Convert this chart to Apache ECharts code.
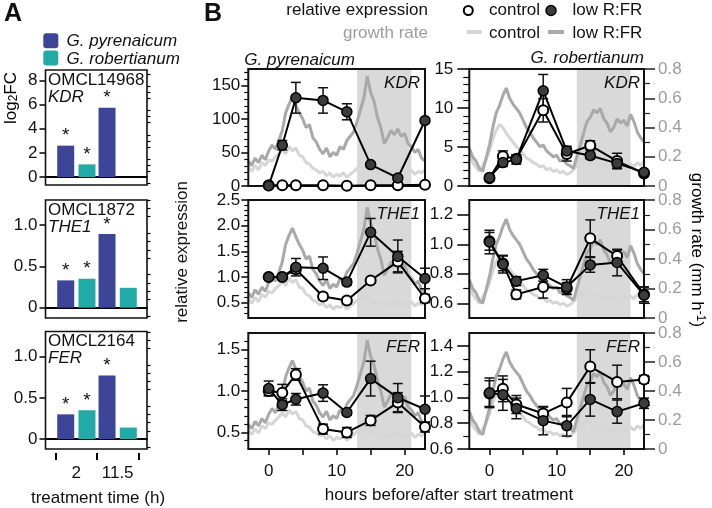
<!DOCTYPE html>
<html><head><meta charset="utf-8">
<script src="https://cdn.jsdelivr.net/npm/echarts@6/dist/echarts.min.js"></script>
<style>html,body{margin:0;padding:0;background:#fff}#c{width:712px;height:508px}</style>
</head><body><div id="c"></div>
<script>
// ---------------- Panel A data (log2 fold change) ----------------
const barCategories = ['2', '11.5'];
const pyrKDR_log2FC = [2.6, 5.75];
const robKDR_log2FC = [1.05, 0];
const pyrTHE1_log2FC = [0.33, 0.89];
const robTHE1_log2FC = [0.35, 0.24];
const pyrFER_log2FC = [0.30, 0.77];
const robFER_log2FC = [0.35, 0.14];
const pyrSignificant = [1, 1];
const robSignificant = [1, 0];

// ---------------- Panel B data (relative expression) ----------------
const sampleHours = [0, 2, 4, 8, 11.5, 15, 19, 23];
const pyrKDR_control = [1, 1, 1, 1, 0.5, 1, 1, 2];
const pyrKDR_controlErr = [0, 0, 0, 0, 0, 0, 0, 0];
const pyrKDR_low = [0.5, 61, 132, 128, 111, 32, 12, 98];
const pyrKDR_lowErr = [0, 7, 23, 19, 12, 3, 3, 3];
const robKDR_control = [1.0, 3.8, 3.5, 9.7, 4.1, 5.2, 3.2, 1.6];
const robKDR_controlErr = [0.2, 0.7, 0.5, 1.5, 0.9, 0.6, 1.0, 0.2];
const robKDR_low = [1.1, 3.0, 3.4, 12.2, 4.5, 3.9, 2.9, 1.75];
const robKDR_lowErr = [0.2, 0.5, 0.6, 2.1, 0.6, 0.4, 0.6, 0.2];
const pyrTHE1_control = [1.0, 1.0, 1.15, 0.62, 0.54, 0.93, 1.3, 0.58];
const pyrTHE1_controlErr = [0, 0, 0.08, 0.06, 0.06, 0.04, 0.2, 0.08];
const pyrTHE1_low = [1.0, 1.0, 1.19, 1.17, 0.9, 1.87, 1.4, 0.97];
const pyrTHE1_lowErr = [0, 0.03, 0.17, 0.22, 0.06, 0.27, 0.32, 0.2];
const robTHE1_control = [1.02, 0.87, 0.66, 0.71, 0.70, 1.04, 0.92, 0.66];
const robTHE1_controlErr = [0.06, 0.05, 0.03, 0.075, 0.04, 0.125, 0.04, 0.05];
const robTHE1_low = [1.015, 0.865, 0.75, 0.79, 0.71, 0.86, 0.876, 0.655];
const robTHE1_lowErr = [0.08, 0.06, 0.03, 0.04, 0.05, 0.05, 0.09, 0.055];
const pyrFER_control = [1.0, 0.98, 1.2, 0.54, 0.5, 0.645, 0.86, 0.565];
const pyrFER_controlErr = [0.05, 0.1, 0.07, 0.06, 0.06, 0.06, 0.12, 0.06];
const pyrFER_low = [1.03, 0.835, 0.9, 0.975, 0.74, 1.15, 0.92, 0.78];
const pyrFER_lowErr = [0.09, 0.07, 0.07, 0.1, 0.03, 0.21, 0.17, 0.16];
const robFER_control = [1.03, 1.067, 0.945, 0.875, 0.96, 1.24, 1.12, 1.14];
const robFER_controlErr = [0.1, 0.1, 0.07, 0.05, 0.11, 0.13, 0.13, 0.03];
const robFER_low = [1.036, 1.02, 0.915, 0.82, 0.78, 0.985, 0.89, 0.955];
const robFER_lowErr = [0.115, 0.12, 0.08, 0.11, 0.08, 0.13, 0.09, 0.04];

// ---------------- Growth rate (mm h-1), sampled every 0.5 h from -3 h ----------------
const growthStartHour = -3;
const growthStepHours = 0.5;
const pyrGrowthControl = [0.13,0.10,0.14,0.11,0.16,0.14,0.18,0.17,0.20,0.22,0.25,0.22,0.27,0.24,0.26,0.21,0.20,0.16,0.15,0.12,0.11,0.09,0.10,0.07,0.09,0.06,0.08,0.07,0.09,0.06,0.08,0.10,0.12,0.15,0.13,0.16,0.12,0.10,0.09,0.11,0.08,0.10,0.09,0.11,0.10,0.08,0.10,0.09,0.11,0.08,0.10,0.09,0.11];
const pyrGrowthLow = [0.17,0.14,0.19,0.16,0.21,0.18,0.24,0.28,0.25,0.31,0.38,0.50,0.56,0.61,0.55,0.50,0.46,0.40,0.42,0.33,0.30,0.25,0.22,0.26,0.20,0.23,0.21,0.27,0.25,0.31,0.34,0.37,0.44,0.52,0.60,0.75,0.64,0.58,0.47,0.40,0.29,0.33,0.38,0.35,0.39,0.34,0.36,0.29,0.27,0.23,0.25,0.19,0.17];
const robGrowthControl = [0.22,0.16,0.13,0.10,0.14,0.18,0.24,0.32,0.38,0.42,0.40,0.36,0.33,0.30,0.27,0.25,0.22,0.19,0.18,0.16,0.15,0.13,0.14,0.11,0.12,0.10,0.11,0.09,0.10,0.08,0.09,0.11,0.14,0.18,0.16,0.20,0.17,0.15,0.16,0.13,0.15,0.12,0.14,0.13,0.15,0.12,0.14,0.13,0.15,0.13,0.16,0.14,0.17];
const robGrowthLow = [0.26,0.20,0.17,0.12,0.10,0.19,0.28,0.40,0.50,0.55,0.62,0.67,0.60,0.56,0.53,0.50,0.45,0.40,0.37,0.33,0.30,0.27,0.28,0.24,0.22,0.20,0.21,0.17,0.18,0.15,0.14,0.12,0.20,0.28,0.36,0.44,0.47,0.52,0.50,0.53,0.46,0.43,0.37,0.40,0.46,0.43,0.45,0.41,0.49,0.44,0.37,0.33,0.30];

const growthTickValues = [0, 0.2, 0.4, 0.6, 0.8];
const growthMinorValues = [0.1, 0.3, 0.5, 0.7];
const hourTickValues = [0, 5, 10, 15, 20];
const hourLabelValues = [0, 10, 20];

// ---------------- styles ----------------
const FONT = '"Liberation Sans", Arial, Helvetica, sans-serif';
const FS = 17;
const BLUE = '#3d4598', TEAL = '#22aaa6';
const GROWTH_CTRL = '#d6d6d6', GROWTH_LOW = '#a9a9a9', SHADE = '#d9d9d9';
const GRAY_TEXT = '#9c9c9c';

function ticksBetween(min, max, step, exclude) {
  const out = [];
  const n0 = Math.ceil(min / step - 1e-9), n1 = Math.floor(max / step + 1e-9);
  for (let n = n0; n <= n1; n++) {
    const v = +(n * step).toFixed(6);
    if (v <= min + 1e-9 || v >= max - 1e-9) continue;
    if (exclude && exclude.some(e => Math.abs(e - v) < 1e-6)) continue;
    out.push(v);
  }
  return out;
}
function fmt(dec) { return v => (Math.abs(v) < 1e-9 ? '0' : (+v).toFixed(dec)); }
function zip2(xs, ys) { return xs.map((x, i) => [x, ys[i]]); }
function errRows(xs, m, e) { return xs.map((x, i) => [x, m[i] - e[i], m[i] + e[i]]); }
function growthPairs(arr) { return arr.map((g, i) => [growthStartHour + i * growthStepHours, g]); }

const grids = [], xAxes = [], yAxes = [], series = [];
const add = (arr, o) => { arr.push(o); return arr.length - 1; };
const noSplit = { show: false };
const hiddenLine = { show: false, onZero: false };

// ---------------- Panel A ----------------
const aPanels = [
  { gene: 'KDR', id: 'OMCL14968', pyr: pyrKDR_log2FC, rob: robKDR_log2FC, top: 70, height: 115, min: -0.66, max: 8.87, major: [0, 2, 4, 6, 8], minorStep: 0.5, dec: 0 },
  { gene: 'THE1', id: 'OMCL1872', pyr: pyrTHE1_log2FC, rob: robTHE1_log2FC, top: 200, height: 118, min: -0.125, max: 1.302, major: [0, 0.5, 1], minorStep: 0.1, dec: 1 },
  { gene: 'FER', id: 'OMCL2164', pyr: pyrFER_log2FC, rob: robFER_log2FC, top: 331.5, height: 117.5, min: -0.12, max: 1.304, major: [0, 0.5, 1], minorStep: 0.1, dec: 1 }
];
const graphics = [];
aPanels.forEach((p, i) => {
  const fg = add(grids, { left: 45.5, top: p.top, width: 101.5, height: p.height, show: true, borderColor: '#111', borderWidth: 1.6, backgroundColor: 'transparent', z: 3 });
  add(xAxes, { gridIndex: fg, type: 'value', min: 0, max: 1, axisLine: { show: true, onZero: true, onZeroAxisIndex: yAxes.length, lineStyle: { color: '#000', width: 2 } }, axisTick: { show: false }, axisLabel: { show: false }, splitLine: noSplit });
  add(yAxes, { gridIndex: fg, type: 'value', min: p.min, max: p.max, axisLine: hiddenLine,
    axisTick: { show: true, length: 6, customValues: p.major, lineStyle: { color: '#000', width: 1.5 } },
    axisLabel: { customValues: p.major, formatter: fmt(p.dec), fontFamily: FONT, fontSize: FS, color: '#111', margin: 8 }, splitLine: noSplit });
  add(yAxes, { gridIndex: fg, type: 'value', min: p.min, max: p.max, axisLine: hiddenLine,
    axisTick: { show: true, length: 3.5, customValues: ticksBetween(p.min, p.max, p.minorStep, p.major), lineStyle: { color: '#000', width: 1.2 } },
    axisLabel: { show: false }, splitLine: noSplit });
  const dg = add(grids, { left: 55.7, top: p.top, width: 82.6, height: p.height });
  const last = i === aPanels.length - 1;
  const dx = add(xAxes, { gridIndex: dg, type: 'category', data: barCategories, boundaryGap: true, show: last, position: 'bottom', offset: 4,
    axisLine: hiddenLine, axisTick: { show: true, interval: 0, length: 7, lineStyle: { color: '#000', width: 2 } },
    axisLabel: { interval: 0, fontFamily: FONT, fontSize: FS, color: '#111', margin: 12 }, splitLine: noSplit });
  const dy = add(yAxes, { gridIndex: dg, type: 'value', min: p.min, max: p.max, show: false, axisLine: hiddenLine, splitLine: noSplit });
  const starLabel = sig => ({ show: true, position: 'top', distance: 0, fontFamily: FONT, fontSize: 19, color: '#111',
    formatter: prm => (sig[prm.dataIndex] ? '*' : '') });
  series.push({ type: 'bar', xAxisIndex: dx, yAxisIndex: dy, data: p.pyr, barWidth: 17, barGap: '25%', itemStyle: { color: BLUE }, label: starLabel(pyrSignificant), z: 2, silent: true });
  series.push({ type: 'bar', xAxisIndex: dx, yAxisIndex: dy, data: p.rob, barWidth: 17, barGap: '25%', itemStyle: { color: TEAL }, label: starLabel(robSignificant), z: 2, silent: true });
  graphics.push({ type: 'text', x: 48, y: p.top + 10, style: { text: p.id, font: FS + 'px ' + FONT, fill: '#111', verticalAlign: 'middle', align: 'left' }, z: 10 });
  graphics.push({ type: 'text', x: 48, y: p.top + 27, style: { text: p.gene, font: 'italic ' + FS + 'px ' + FONT, fill: '#111', verticalAlign: 'middle', align: 'left' }, z: 10 });
});

// ---------------- Panel B ----------------
const bCols = [
  { left: 248.3, width: 176.7, growthCtrl: pyrGrowthControl, growthLow: pyrGrowthLow, tickLen: 7, minorLen: 4, margin: 8, showGrowth: false, geneRight: 420 },
  { left: 469.3, width: 174.7, growthCtrl: robGrowthControl, growthLow: robGrowthLow, tickLen: 12, minorLen: 6, margin: 16, showGrowth: true, geneRight: 640 }
];
const bRows = [
  { top: 69, height: 117, gene: 'KDR' },
  { top: 200, height: 118, gene: 'THE1' },
  { top: 333, height: 116, gene: 'FER' }
];
const bPanels = [
  { row: 0, col: 0, min: 0, max: 175, major: [0, 50, 100, 150], minorStep: 10, dec: 0, ctrl: pyrKDR_control, ctrlErr: pyrKDR_controlErr, low: pyrKDR_low, lowErr: pyrKDR_lowErr },
  { row: 0, col: 1, min: 0, max: 15, major: [0, 5, 10, 15], minorStep: 1, dec: 0, ctrl: robKDR_control, ctrlErr: robKDR_controlErr, low: robKDR_low, lowErr: robKDR_lowErr },
  { row: 1, col: 0, min: 0.2, max: 2.5, major: [0.5, 1, 1.5, 2, 2.5], minorStep: 0.1, dec: 1, ctrl: pyrTHE1_control, ctrlErr: pyrTHE1_controlErr, low: pyrTHE1_low, lowErr: pyrTHE1_lowErr },
  { row: 1, col: 1, min: 0.5, max: 1.3, major: [0.6, 0.8, 1.0, 1.2], minorStep: 0.1, dec: 1, ctrl: robTHE1_control, ctrlErr: robTHE1_controlErr, low: robTHE1_low, lowErr: robTHE1_lowErr },
  { row: 2, col: 0, min: 0.3, max: 1.7, major: [0.5, 1, 1.5], minorStep: 0.1, dec: 1, ctrl: pyrFER_control, ctrlErr: pyrFER_controlErr, low: pyrFER_low, lowErr: pyrFER_lowErr },
  { row: 2, col: 1, min: 0.6, max: 1.5, major: [0.6, 0.8, 1.0, 1.2, 1.4], minorStep: 0.1, dec: 1, ctrl: robFER_control, ctrlErr: robFER_controlErr, low: robFER_low, lowErr: robFER_lowErr }
];

function errorBarItem(params, api) {
  const x = api.value(0), lo = api.value(1), hi = api.value(2);
  if (!(hi - lo > 1e-9)) return null;
  const a = api.coord([x, hi]), b = api.coord([x, lo]);
  const w = 5;
  const style = { stroke: '#111', lineWidth: 1.5 };
  return { type: 'group', children: [
    { type: 'line', shape: { x1: a[0], y1: a[1], x2: b[0], y2: b[1] }, style },
    { type: 'line', shape: { x1: a[0] - w, y1: a[1], x2: a[0] + w, y2: a[1] }, style },
    { type: 'line', shape: { x1: b[0] - w, y1: b[1], x2: b[0] + w, y2: b[1] }, style }
  ] };
}

bPanels.forEach(p => {
  const c = bCols[p.col], r = bRows[p.row];
  const g = add(grids, { left: c.left, top: r.top, width: c.width, height: r.height, show: true, borderColor: '#111', borderWidth: 2, backgroundColor: 'transparent', z: 3 });
  const bottom = p.row === 2;
  const xi = add(xAxes, { gridIndex: g, type: 'value', position: 'bottom', min: -3, max: 23, axisLine: hiddenLine,
    axisTick: bottom ? { show: true, length: 6, customValues: hourTickValues, lineStyle: { color: '#000', width: 1.5 } } : { show: false },
    axisLabel: bottom ? { customValues: hourLabelValues, fontFamily: FONT, fontSize: FS, color: '#111', margin: 14 } : { show: false },
    splitLine: noSplit });
  const yi = add(yAxes, { gridIndex: g, type: 'value', position: 'left', min: p.min, max: p.max, axisLine: hiddenLine,
    axisTick: { show: true, length: c.tickLen, customValues: p.major, lineStyle: { color: '#000', width: 1.5 } },
    axisLabel: { customValues: p.major, formatter: fmt(p.dec), fontFamily: FONT, fontSize: FS, color: '#111', margin: c.margin }, splitLine: noSplit });
  add(yAxes, { gridIndex: g, type: 'value', position: 'left', min: p.min, max: p.max, axisLine: hiddenLine,
    axisTick: { show: true, length: c.minorLen, customValues: ticksBetween(p.min, p.max, p.minorStep, p.major), lineStyle: { color: '#000', width: 1.2 } },
    axisLabel: { show: false }, splitLine: noSplit });
  const gi = add(yAxes, { gridIndex: g, type: 'value', position: 'right', min: 0, max: 0.8, show: c.showGrowth, axisLine: hiddenLine,
    axisTick: { show: true, length: 11, customValues: growthTickValues, lineStyle: { color: '#222', width: 1.5 } },
    axisLabel: { customValues: growthTickValues, formatter: fmt(1), fontFamily: FONT, fontSize: FS, color: GRAY_TEXT, margin: 14 }, splitLine: noSplit });
  add(yAxes, { gridIndex: g, type: 'value', position: 'right', min: 0, max: 0.8, show: c.showGrowth, axisLine: hiddenLine,
    axisTick: { show: true, length: 6, customValues: growthMinorValues, lineStyle: { color: '#222', width: 1.2 } },
    axisLabel: { show: false }, splitLine: noSplit });

  series.push({ type: 'line', xAxisIndex: xi, yAxisIndex: gi, data: growthPairs(c.growthCtrl), showSymbol: false, symbol: 'none',
    lineStyle: { color: GROWTH_CTRL, width: 3 }, z: 2, silent: true,
    markArea: { silent: true, z: 1, itemStyle: { color: SHADE }, data: [[{ xAxis: 13 }, { xAxis: 21 }]] } });
  series.push({ type: 'line', xAxisIndex: xi, yAxisIndex: gi, data: growthPairs(c.growthLow), showSymbol: false, symbol: 'none',
    lineStyle: { color: GROWTH_LOW, width: 3 }, z: 2, silent: true });
  series.push({ type: 'custom', xAxisIndex: xi, yAxisIndex: yi, renderItem: errorBarItem, data: errRows(sampleHours, p.ctrl, p.ctrlErr), encode: { x: 0, y: [1, 2] }, z: 4, silent: true, clip: false });
  series.push({ type: 'custom', xAxisIndex: xi, yAxisIndex: yi, renderItem: errorBarItem, data: errRows(sampleHours, p.low, p.lowErr), encode: { x: 0, y: [1, 2] }, z: 4, silent: true, clip: false });
  series.push({ type: 'line', xAxisIndex: xi, yAxisIndex: yi, data: zip2(sampleHours, p.ctrl), symbol: 'circle', symbolSize: 10, showSymbol: true, clip: false,
    itemStyle: { color: '#fff', borderColor: '#000', borderWidth: 2 }, lineStyle: { color: '#000', width: 2 }, z: 5, silent: true });
  series.push({ type: 'line', xAxisIndex: xi, yAxisIndex: yi, data: zip2(sampleHours, p.low), symbol: 'circle', symbolSize: 10, showSymbol: true, clip: false,
    itemStyle: { color: '#3c3c3c', borderColor: '#000', borderWidth: 1.5 }, lineStyle: { color: '#000', width: 2 }, z: 6, silent: true });
  graphics.push({ type: 'text', x: c.geneRight, y: r.top + 14, style: { text: r.gene, font: 'italic ' + FS + 'px ' + FONT, fill: '#111', align: 'right', verticalAlign: 'middle' }, z: 10 });
});

// ---------------- texts & legends ----------------
const T = (text, x, y, o) => Object.assign({ type: 'text', x, y, z: 10, style: Object.assign({ text, font: FS + 'px ' + FONT, fill: '#111', align: 'left', verticalAlign: 'middle' }, o || {}) });
graphics.push(T('A', 4, 14, { font: 'bold 25px ' + FONT }));
graphics.push(T('B', 204, 14, { font: 'bold 25px ' + FONT }));
graphics.push({ type: 'rect', shape: { x: 43.3, y: 33.3, width: 15, height: 15, r: 3 }, style: { fill: BLUE }, z: 10 });
graphics.push({ type: 'rect', shape: { x: 43.3, y: 50.5, width: 15, height: 15, r: 3 }, style: { fill: TEAL }, z: 10 });
graphics.push(T('G. pyrenaicum', 66.5, 41, { font: 'italic ' + FS + 'px ' + FONT }));
graphics.push(T('G. robertianum', 66.5, 59, { font: 'italic ' + FS + 'px ' + FONT }));
graphics.push({ type: 'text', x: 11, y: 98, rotation: Math.PI / 2, z: 10,
  style: { text: '{a|log}{s|2}{a|FC}', align: 'center', verticalAlign: 'middle',
    rich: { a: { fontFamily: FONT, fontSize: FS, color: '#111' }, s: { fontFamily: FONT, fontSize: 12, color: '#111', verticalAlign: 'bottom', padding: [6, 0, 0, 0] } } } });
graphics.push(T('treatment time (h)', 98, 498, { align: 'center' }));
graphics.push(T('relative expression', 428, 10.5, { align: 'right' }));
graphics.push(T('growth rate', 428, 33, { align: 'right', fill: GRAY_TEXT }));
graphics.push({ type: 'circle', shape: { cx: 468.3, cy: 10.5, r: 4.5 }, style: { fill: '#fff', stroke: '#000', lineWidth: 2 }, z: 10 });
graphics.push(T('control', 489, 10.5));
graphics.push({ type: 'circle', shape: { cx: 551, cy: 10.5, r: 5 }, style: { fill: '#3c3c3c', stroke: '#000', lineWidth: 1.5 }, z: 10 });
graphics.push(T('low R:FR', 572.5, 10.5));
graphics.push({ type: 'line', shape: { x1: 466.7, y1: 32, x2: 481.7, y2: 32 }, style: { stroke: GROWTH_CTRL, lineWidth: 4 }, z: 10 });
graphics.push(T('control', 489, 33));
graphics.push({ type: 'line', shape: { x1: 548, y1: 32, x2: 564, y2: 32 }, style: { stroke: GROWTH_LOW, lineWidth: 4 }, z: 10 });
graphics.push(T('low R:FR', 572.5, 33));
graphics.push(T('G. pyrenaicum', 244.3, 60, { font: 'italic ' + FS + 'px ' + FONT }));
graphics.push(T('G. robertianum', 644, 58.5, { font: 'italic ' + FS + 'px ' + FONT, align: 'right' }));
graphics.push({ type: 'text', x: 182, y: 252, rotation: Math.PI / 2, z: 10,
  style: { text: 'relative expression', font: FS + 'px ' + FONT, fill: '#111', align: 'center', verticalAlign: 'middle' } });
graphics.push({ type: 'text', x: 697, y: 250, rotation: -Math.PI / 2, z: 10,
  style: { text: '{a|growth rate (mm h}{s|-1}{a|)}', align: 'center', verticalAlign: 'middle',
    rich: { a: { fontFamily: FONT, fontSize: FS, color: GRAY_TEXT }, s: { fontFamily: FONT, fontSize: 12, color: GRAY_TEXT, verticalAlign: 'top', padding: [0, 0, 6, 0] } } } });
graphics.push(T('hours before/after start treatment', 449, 495, { align: 'center' }));

const chart = echarts.init(document.getElementById('c'));
chart.setOption({
  animation: false,
  backgroundColor: '#fff',
  textStyle: { fontFamily: FONT },
  grid: grids, xAxis: xAxes, yAxis: yAxes, series, graphic: graphics
});
</script></body></html>
